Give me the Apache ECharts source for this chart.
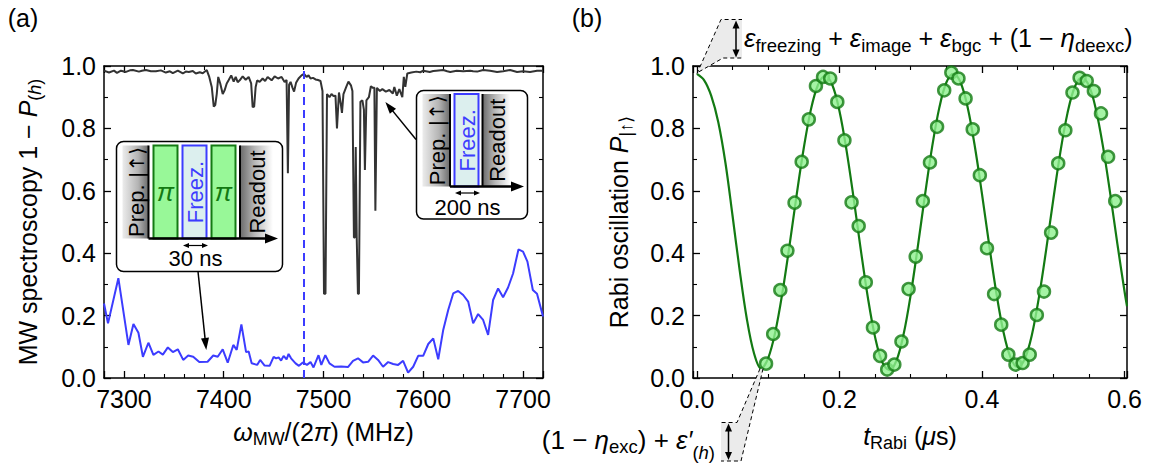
<!DOCTYPE html>
<html>
<head>
<meta charset="utf-8">
<title>MW spectroscopy and Rabi oscillation</title>
<script src="https://cdn.jsdelivr.net/npm/echarts@6.0.0/dist/echarts.min.js"></script>
<style>
  html, body { margin: 0; padding: 0; background: #fff; }
  #chart { width: 1157px; height: 467px; }
</style>
</head>
<body>
<div id="chart"></div>
<script>
// (a) MW spectroscopy with the freezing pulse alone (dark trace)
const freqFreeze = [7280, 7285, 7290, 7293, 7297, 7302, 7306, 7309, 7315, 7318, 7322, 7327, 7332, 7337, 7342, 7346, 7349, 7354, 7359, 7362, 7365, 7369, 7372, 7376, 7379, 7383, 7385.5, 7388, 7390, 7391.5, 7393, 7394.5, 7396.5, 7399, 7401, 7403, 7405, 7407.5, 7410, 7412, 7414, 7416, 7419, 7422, 7425, 7427.5, 7429, 7430.5, 7432, 7433.5, 7436, 7439, 7441.5, 7444, 7448, 7451, 7454.5, 7458, 7461, 7463, 7464.3, 7465.5, 7467, 7469, 7470.5, 7472.5, 7475, 7478, 7480.5, 7483, 7485, 7487, 7489.5, 7492, 7494.5, 7497, 7499, 7500.5, 7502, 7503.5, 7506, 7508, 7510, 7512, 7513.5, 7515.5, 7517.5, 7518.5, 7520, 7523, 7525, 7527.5, 7529, 7530.5, 7531.5, 7532.3, 7533.3, 7534.5, 7535.5, 7537, 7539, 7540.5, 7541.5, 7543, 7545.5, 7547.5, 7549.5, 7551, 7552, 7553.5, 7556.5, 7559, 7562.5, 7566, 7569.5, 7571, 7573.5, 7576, 7579, 7580.5, 7582, 7584, 7588, 7593, 7597, 7600, 7606.5, 7610, 7613, 7620, 7624, 7627, 7633.5, 7640, 7647, 7650, 7654, 7660, 7667, 7674, 7680, 7687, 7694, 7700, 7707, 7714, 7720];
const specFreeze = [0.985, 0.979, 0.985, 0.978, 0.985, 0.981, 0.986, 0.987, 0.982, 0.985, 0.987, 0.983, 0.983, 0.986, 0.979, 0.983, 0.977, 0.985, 0.976, 0.982, 0.981, 0.984, 0.976, 0.980, 0.977, 0.987, 0.965, 0.933, 0.870, 0.875, 0.910, 0.965, 0.944, 0.910, 0.923, 0.944, 0.955, 0.970, 0.950, 0.965, 0.948, 0.954, 0.967, 0.956, 0.965, 0.944, 0.868, 0.870, 0.933, 0.954, 0.949, 0.960, 0.952, 0.965, 0.954, 0.967, 0.960, 0.965, 0.949, 0.955, 0.656, 0.940, 0.949, 0.930, 0.918, 0.946, 0.960, 0.970, 0.975, 0.965, 0.970, 0.960, 0.962, 0.957, 0.955, 0.952, 0.920, 0.270, 0.270, 0.910, 0.900, 0.910, 0.904, 0.905, 0.800, 0.915, 0.875, 0.850, 0.910, 0.935, 0.950, 0.938, 0.920, 0.450, 0.450, 0.740, 0.450, 0.270, 0.270, 0.885, 0.890, 0.860, 0.667, 0.890, 0.900, 0.935, 0.930, 0.930, 0.536, 0.930, 0.920, 0.926, 0.918, 0.923, 0.912, 0.933, 0.905, 0.926, 0.900, 0.965, 0.933, 0.976, 0.979, 0.982, 0.980, 0.985, 0.981, 0.984, 0.985, 0.987, 0.983, 0.981, 0.985, 0.983, 0.985, 0.983, 0.982, 0.987, 0.985, 0.981, 0.983, 0.987, 0.981, 0.983, 0.981, 0.985, 0.985];

// (a) MW spectroscopy with the pi - freeze - pi sequence (blue trace)
const freqPiSeq = [7280, 7284, 7294.4, 7304.5, 7309.5, 7314.5, 7319, 7324.5, 7329.5, 7334.6, 7339, 7344, 7349, 7354, 7359.4, 7364.4, 7369.4, 7375.5, 7383.8, 7389.5, 7394, 7399, 7404, 7409.6, 7413, 7417.7, 7422.4, 7425, 7428, 7433.5, 7436.5, 7441, 7446, 7450, 7452.5, 7455, 7457.5, 7460, 7463, 7465, 7467.5, 7472, 7475.4, 7479.3, 7483.4, 7487, 7490, 7495, 7497.8, 7501.8, 7506, 7511, 7517.8, 7524.5, 7529.6, 7534.6, 7539.6, 7544.7, 7549.7, 7554.7, 7559.7, 7564.8, 7569.8, 7574.8, 7579.8, 7584.8, 7589.9, 7594.9, 7599.9, 7605, 7610, 7615, 7620, 7625, 7630, 7635, 7640, 7645, 7650, 7655, 7660, 7665, 7670, 7675, 7680, 7685, 7690, 7695.4, 7700, 7704.4, 7709.8, 7714, 7720];
const specPiSeq = [0.239, 0.175, 0.320, 0.106, 0.173, 0.145, 0.068, 0.113, 0.074, 0.085, 0.075, 0.098, 0.083, 0.092, 0.058, 0.072, 0.068, 0.051, 0.052, 0.072, 0.068, 0.092, 0.049, 0.106, 0.090, 0.172, 0.083, 0.085, 0.047, 0.042, 0.058, 0.040, 0.039, 0.068, 0.063, 0.066, 0.056, 0.071, 0.060, 0.077, 0.063, 0.047, 0.039, 0.050, 0.042, 0.051, 0.034, 0.073, 0.042, 0.073, 0.047, 0.036, 0.037, 0.035, 0.055, 0.063, 0.050, 0.052, 0.072, 0.058, 0.036, 0.051, 0.045, 0.042, 0.055, 0.017, 0.036, 0.071, 0.071, 0.109, 0.127, 0.060, 0.154, 0.218, 0.271, 0.279, 0.266, 0.245, 0.175, 0.205, 0.186, 0.138, 0.250, 0.287, 0.259, 0.290, 0.335, 0.412, 0.405, 0.373, 0.282, 0.270, 0.197];

// resonance frequency marked by the dashed line
const markerFreq = 7480;

// (b) measured Rabi oscillation
const rabiTime = [0.097, 0.107, 0.117, 0.127, 0.137, 0.147, 0.157, 0.167, 0.177, 0.187, 0.197, 0.207, 0.217, 0.227, 0.237, 0.247, 0.257, 0.267, 0.277, 0.287, 0.297, 0.307, 0.317, 0.327, 0.337, 0.347, 0.357, 0.367, 0.377, 0.387, 0.397, 0.407, 0.417, 0.427, 0.437, 0.447, 0.457, 0.467, 0.477, 0.487, 0.497, 0.507, 0.517, 0.527, 0.537, 0.547, 0.557, 0.567, 0.577, 0.587];
const rabiPop = [0.046, 0.141, 0.282, 0.408, 0.562, 0.693, 0.829, 0.936, 0.965, 0.960, 0.885, 0.762, 0.563, 0.487, 0.307, 0.162, 0.071, 0.027, 0.043, 0.117, 0.285, 0.389, 0.567, 0.691, 0.805, 0.922, 0.979, 0.960, 0.896, 0.797, 0.650, 0.416, 0.269, 0.171, 0.075, 0.043, 0.048, 0.075, 0.202, 0.277, 0.466, 0.688, 0.794, 0.915, 0.962, 0.952, 0.920, 0.848, 0.709, 0.567];

// (b) fitted oscillation curve
const fitTime = [0, 0.01, 0.02, 0.03, 0.04, 0.05, 0.06, 0.07, 0.08, 0.09, 0.10, 0.11, 0.12, 0.13, 0.14, 0.15, 0.16, 0.17, 0.18, 0.19, 0.20, 0.21, 0.22, 0.23, 0.24, 0.25, 0.26, 0.27, 0.28, 0.29, 0.30, 0.31, 0.32, 0.33, 0.34, 0.35, 0.36, 0.37, 0.38, 0.39, 0.40, 0.41, 0.42, 0.43, 0.44, 0.45, 0.46, 0.47, 0.48, 0.49, 0.50, 0.51, 0.52, 0.53, 0.54, 0.55, 0.56, 0.57, 0.58, 0.59, 0.60, 0.6035];
const fitPop = [0.975, 0.955, 0.905, 0.820, 0.690, 0.520, 0.345, 0.190, 0.080, 0.030, 0.064, 0.148, 0.274, 0.426, 0.588, 0.738, 0.861, 0.940, 0.968, 0.939, 0.856, 0.729, 0.575, 0.410, 0.256, 0.131, 0.051, 0.025, 0.056, 0.140, 0.267, 0.422, 0.586, 0.740, 0.865, 0.947, 0.975, 0.947, 0.866, 0.742, 0.590, 0.428, 0.275, 0.149, 0.066, 0.035, 0.061, 0.138, 0.260, 0.410, 0.571, 0.724, 0.849, 0.932, 0.963, 0.938, 0.860, 0.739, 0.590, 0.430, 0.278, 0.230];

// tick labels
const specTicks = [7300, 7400, 7500, 7600, 7700];
const rabiTicks = [0, 0.2, 0.4, 0.6];
const popTicks = [0, 0.2, 0.4, 0.6, 0.8, 1.0];

const FONT = '"Liberation Sans", Arial, Helvetica, sans-serif';
const BLUE = '#3c3cff';
const GREEN = '#137a13';

function isTick(list, v) { return list.some(t => Math.abs(t - v) < 1e-9); }

// rich styles used in axis titles
function rs(size, extra) { return Object.assign({ fontFamily: FONT, fontSize: size, color: '#000' }, extra || {}); }
const titleRich = {
  n: rs(25),
  i: rs(25, { fontStyle: 'italic' }),
  s: rs(18, { padding: [14, 0, 0, 0] }),
  si: rs(18, { fontStyle: 'italic', padding: [14, 0, 0, 0] })
};

function baseAxis(o) {
  const a = {
    type: 'value',
    axisLine: { show: true, onZero: false, lineStyle: { color: '#000', width: 1.5 } },
    axisTick: { show: true, inside: true, length: 7, lineStyle: { color: '#000', width: 1.3 } },
    minorTick: { show: true, length: 4, splitNumber: o.minorSplit, lineStyle: { color: '#000', width: 1.1 } },
    splitLine: { show: false },
    minorSplitLine: { show: false },
    axisLabel: { show: o.labels !== false, color: '#000', fontFamily: FONT, fontSize: 25, margin: 8,
      showMinLabel: true, showMaxLabel: true, formatter: o.formatter },
    nameMoveOverlap: false
  };
  delete o.minorSplit; delete o.labels; delete o.formatter;
  return Object.assign(a, o);
}

function specX(o) {
  return baseAxis(Object.assign({ min: 7280, max: 7720, minInterval: 100, maxInterval: 100, minorSplit: 5,
    formatter: v => isTick(specTicks, v) ? String(v) : '' }, o));
}
function rabiX(o) {
  return baseAxis(Object.assign({ min: -0.0055, max: 0.6035, minInterval: 0.2, maxInterval: 0.2, minorSplit: 4,
    formatter: v => isTick(rabiTicks, v) ? Math.abs(v).toFixed(1) : '' }, o));
}
function popY(o) {
  return baseAxis(Object.assign({ min: 0, max: 1, interval: 0.2, minorSplit: 2,
    formatter: v => isTick(popTicks, v) ? v.toFixed(1) : '' }, o));
}

const chart = echarts.init(document.getElementById('chart'), null, { renderer: 'svg', width: 1157, height: 467 });

const option = {
  animation: false,
  backgroundColor: '#fff',
  grid: [
    { left: 104, top: 66, width: 439, height: 312, outerBoundsMode: 'none', containLabel: false },
    { left: 693, top: 66, width: 434, height: 312, outerBoundsMode: 'none', containLabel: false }
  ],
  xAxis: [
    specX({ gridIndex: 0, position: 'bottom',
      name: '{i|ω}{s|MW}{n|/(2}{i|π}{n|) (MHz)}', nameLocation: 'middle', nameGap: 38,
      nameTextStyle: { rich: titleRich } }),
    specX({ gridIndex: 0, position: 'top', labels: false }),
    rabiX({ gridIndex: 1, position: 'bottom',
      name: '{i|t}{s|Rabi}{n| (}{i|μ}{n|s)}', nameLocation: 'middle', nameGap: 42,
      nameTextStyle: { rich: titleRich } }),
    rabiX({ gridIndex: 1, position: 'top', labels: false })
  ],
  yAxis: [
    popY({ gridIndex: 0, position: 'left',
      name: '{n|MW spectroscopy 1 − }{i|P}{s|(}{si|h}{s|)}', nameLocation: 'middle', nameGap: 60,
      nameTextStyle: { rich: titleRich } }),
    popY({ gridIndex: 0, position: 'right', labels: false }),
    popY({ gridIndex: 1, position: 'left',
      name: '{n|Rabi oscillation }{i|P}{s||↑⟩}', nameLocation: 'middle', nameGap: 58,
      nameTextStyle: { rich: titleRich } }),
    popY({ gridIndex: 1, position: 'right', labels: false })
  ],
  series: [
    {
      name: 'freezing pulse', type: 'line', xAxisIndex: 0, yAxisIndex: 0,
      data: freqFreeze.map((f, i) => [f, specFreeze[i]]),
      symbol: 'none', lineStyle: { color: '#333', width: 2 }, z: 3
    },
    {
      name: 'pi-freeze-pi', type: 'line', xAxisIndex: 0, yAxisIndex: 0,
      data: freqPiSeq.map((f, i) => [f, specPiSeq[i]]),
      symbol: 'none', lineStyle: { color: BLUE, width: 2 }, z: 2,
      markLine: {
        silent: true, symbol: ['none', 'none'], label: { show: false },
        lineStyle: { color: BLUE, type: [8, 5], width: 2 },
        data: [{ xAxis: markerFreq }]
      }
    },
    {
      name: 'fit', type: 'line', xAxisIndex: 2, yAxisIndex: 2,
      data: fitTime.map((t, i) => [t, fitPop[i]]),
      symbol: 'none', smooth: 0.35, lineStyle: { color: GREEN, width: 2.2 }, z: 3
    },
    {
      name: 'Rabi data', type: 'scatter', xAxisIndex: 2, yAxisIndex: 2,
      data: rabiTime.map((t, i) => [t, rabiPop[i]]),
      symbol: 'circle', symbolSize: 12,
      itemStyle: { color: '#8ff08f', borderColor: GREEN, borderWidth: 2.5 }, z: 4
    }
  ]
};
chart.setOption(option);

// ---------- annotation drawing helpers ----------
const Z = 100;
function seg(x1, y1, x2, y2, lw, extra) {
  return { type: 'line', z: Z, shape: { x1, y1, x2, y2 }, style: Object.assign({ stroke: '#000', lineWidth: lw || 1.5 }, extra || {}) };
}
function head(xt, yt, xf, yf, len, wid) {
  const dx = xt - xf, dy = yt - yf, d = Math.hypot(dx, dy), ux = dx / d, uy = dy / d;
  const bx = xt - ux * len, by = yt - uy * len;
  return { type: 'polygon', z: Z + 1, shape: { points: [[xt, yt], [bx - uy * wid / 2, by + ux * wid / 2], [bx + uy * wid / 2, by - ux * wid / 2]] }, style: { fill: '#000' } };
}
function arrow(x1, y1, x2, y2, lw, len, wid) {
  const d = Math.hypot(x2 - x1, y2 - y1), ux = (x2 - x1) / d, uy = (y2 - y1) / d;
  return [seg(x1, y1, x2 - ux * len * 0.7, y2 - uy * len * 0.7, lw), head(x2, y2, x1, y1, len, wid)];
}
function dblArrow(x1, y1, x2, y2, lw, len, wid) {
  const d = Math.hypot(x2 - x1, y2 - y1), ux = (x2 - x1) / d, uy = (y2 - y1) / d;
  return [seg(x1 + ux * len * 0.7, y1 + uy * len * 0.7, x2 - ux * len * 0.7, y2 - uy * len * 0.7, lw),
          head(x2, y2, x1, y1, len, wid), head(x1, y1, x2, y2, len, wid)];
}
function txt(x, y, text, o) {
  o = o || {};
  return { type: 'text', z: Z + 2, x, y, rotation: o.rot || 0,
    style: { text, fontFamily: o.family || FONT, fontSize: o.size || 22, fill: o.color || '#000',
      fontStyle: o.italic ? 'italic' : 'normal', align: o.align || 'center', verticalAlign: 'middle', rich: o.rich } };
}
function box(x, y, w, h, fill, stroke, lw) {
  return { type: 'rect', z: Z, shape: { x, y, width: w, height: h }, style: { fill, stroke: stroke || null, lineWidth: lw || 0 } };
}
const greyL = () => new echarts.graphic.LinearGradient(0, 0, 1, 0, [
  { offset: 0, color: '#ececec' }, { offset: 0.6, color: '#b4b4b4' }, { offset: 1, color: '#6a6a6a' }]);
const greyR = () => new echarts.graphic.LinearGradient(0, 0, 1, 0, [
  { offset: 0, color: '#6a6a6a' }, { offset: 0.45, color: '#b8b8b8' }, { offset: 1, color: '#ffffff' }]);
const ROT = Math.PI / 2;
const prepRich = {
  p: { fontFamily: FONT, fontSize: 22, fill: '#000' },
  k: { fontFamily: '"DejaVu Sans", sans-serif', fontSize: 20, fill: '#000' }
};

// pulse sequence sketch: column list of {kind, x, w}
function sequence(frame, cols, top, bottom, axisEnd, span, spanY, caption, captionY) {
  const els = [];
  els.push({ type: 'rect', z: Z, shape: { x: frame[0], y: frame[1], width: frame[2], height: frame[3], r: 7 },
    style: { fill: '#fff', stroke: '#000', lineWidth: 1.5 } });
  const mid = (top + bottom) / 2;
  cols.forEach(c => {
    const cx = c.x + c.w / 2;
    if (c.kind === 'prep') {
      els.push(box(c.x, top, c.w, bottom - top, greyL()));
      els.push(seg(c.x + c.w, top, c.x + c.w, bottom, 2));
      els.push(txt(cx + 1, mid, '{p|Prep. }{k||↑⟩}', { rot: ROT, rich: prepRich }));
    } else if (c.kind === 'pi') {
      els.push(box(c.x, top, c.w, bottom - top, '#98f898', GREEN, 2));
      els.push(txt(cx, mid, 'π', { size: 26, italic: true, color: GREEN }));
    } else if (c.kind === 'freeze') {
      els.push(box(c.x, top, c.w, bottom - top, '#dcefee', BLUE, 2));
      els.push(txt(cx + 1, mid, 'Freez.', { rot: ROT, size: 22, color: BLUE }));
    } else if (c.kind === 'read') {
      els.push(box(c.x, top, c.w, bottom - top, greyR()));
      els.push(seg(c.x, top, c.x, bottom, 2));
      els.push(txt(cx + 1, mid, 'Readout', { rot: ROT, size: 22 }));
    }
  });
  const x0 = cols[0].x + cols[0].w;
  els.push(...arrow(x0, bottom, axisEnd, bottom, 2.5, 13, 10));
  els.push(...dblArrow(span[0], spanY, span[1], spanY, 1.2, 6, 5));
  els.push(txt((span[0] + span[1]) / 2, captionY, caption, { size: 22 }));
  return els;
}

function drawAnnotations() {
  const px = (si, pt) => chart.convertToPixel({ seriesIndex: si }, pt);
  const g = [];

  // panel letters
  g.push(txt(23, 18, '(a)', { size: 25 }));
  g.push(txt(587, 18, '(b)', { size: 25 }));

  // (a) pi - freeze - pi sequence sketch
  g.push(...sequence([116.5, 141.5, 166, 130],
    [{ kind: 'prep', x: 122.5, w: 26 }, { kind: 'pi', x: 153.5, w: 24 }, { kind: 'freeze', x: 182.5, w: 24 },
     { kind: 'pi', x: 211.5, w: 24 }, { kind: 'read', x: 240, w: 33 }],
    145.5, 238.5, 278, [183, 208], 245.5, '30 ns', 258.5));
  // (a) freezing-only sequence sketch
  g.push(...sequence([416.5, 90.5, 111, 128.5],
    [{ kind: 'prep', x: 422.5, w: 27.5 }, { kind: 'freeze', x: 454.5, w: 24 }, { kind: 'read', x: 482.5, w: 28 }],
    94, 186.5, 524, [455, 480], 193, '200 ns', 207.5));

  // arrows from sketches to their traces
  const tipBlack = px(0, [7562, 0.885]);
  g.push(...arrow(416, 139.5, tipBlack[0], tipBlack[1], 1.5, 12, 8));
  const tipBlue = px(1, [7382.5, 0.09]);
  g.push(...arrow(198, 271.5, tipBlue[0], tipBlue[1], 1.5, 12, 8));

  // (b) upper error budget callout, anchored at the start of the fit
  const p0 = px(2, [fitTime[0], fitPop[0]]);
  const dash = { lineDash: [4, 3], fill: null, stroke: '#000', lineWidth: 1 };
  g.push({ type: 'polygon', z: Z - 1, shape: { points: [p0, [721, 19.5], [742, 19.5], [742, 58], [723, 58]] }, style: { fill: '#ebebeb' } });
  g.push({ type: 'polyline', z: Z, shape: { points: [p0, [721, 19.5], [742, 19.5]] }, style: dash });
  g.push({ type: 'polyline', z: Z, shape: { points: [[p0[0] + 2, p0[1] - 2], [723, 58], [742, 58]] }, style: dash });
  g.push(...dblArrow(736, 20.5, 736, 57.5, 1.5, 8, 7));
  const eS = 25, sub = { fontFamily: FONT, fontSize: 18.5, fill: '#000', padding: [15, 0, 0, 0] };
  const topRich = {
    e: { fontFamily: FONT, fontSize: eS + 1, fontStyle: 'italic', fill: '#000' },
    s: sub,
    n: { fontFamily: FONT, fontSize: eS, fill: '#000' }
  };
  g.push(txt(744, 38, '{e|ε}{s|freezing}{n| + }{e|ε}{s|image}{n| + }{e|ε}{s|bgc}{n| + (1 − }{e|η}{s|deexc}{n|)}',
    { align: 'left', rich: topRich }));

  // (b) lower error budget callout, anchored at the first minimum of the fit
  const p1 = px(2, [fitTime[9], fitPop[9]]);
  g.push({ type: 'polygon', z: Z - 1, shape: { points: [[p1[0] - 1, p1[1]], [737, 422.5], [721, 422.5], [721, 461], [741, 461], [p1[0] + 2, p1[1]]] }, style: { fill: '#ebebeb' } });
  g.push({ type: 'polyline', z: Z, shape: { points: [[p1[0] - 1, p1[1]], [737, 422.5], [721, 422.5]] }, style: dash });
  g.push({ type: 'polyline', z: Z, shape: { points: [[p1[0] + 2, p1[1]], [741, 461], [721, 461]] }, style: dash });
  g.push(...dblArrow(728.5, 423.5, 728.5, 460, 1.5, 8, 7));
  const botRich = {
    n: { fontFamily: FONT, fontSize: 26, fill: '#000' },
    e: { fontFamily: FONT, fontSize: 26, fontStyle: 'italic', fill: '#000' },
    s: { fontFamily: FONT, fontSize: 18.5, fill: '#000', padding: [12, 0, 0, 0] },
    h: { fontFamily: FONT, fontSize: 18.5, fill: '#000', padding: [24, 0, 0, 0] },
    hi: { fontFamily: FONT, fontSize: 18.5, fill: '#000', fontStyle: 'italic', padding: [24, 0, 0, 0] }
  };
  g.push(txt(715, 440, '{n|(1 − }{e|η}{s|exc}{n|) + }{e|ε′}{h|(}{hi|h}{h|)}', { align: 'right', rich: botRich }));

  chart.setOption({ graphic: g });
}
drawAnnotations();
</script>
</body>
</html>
